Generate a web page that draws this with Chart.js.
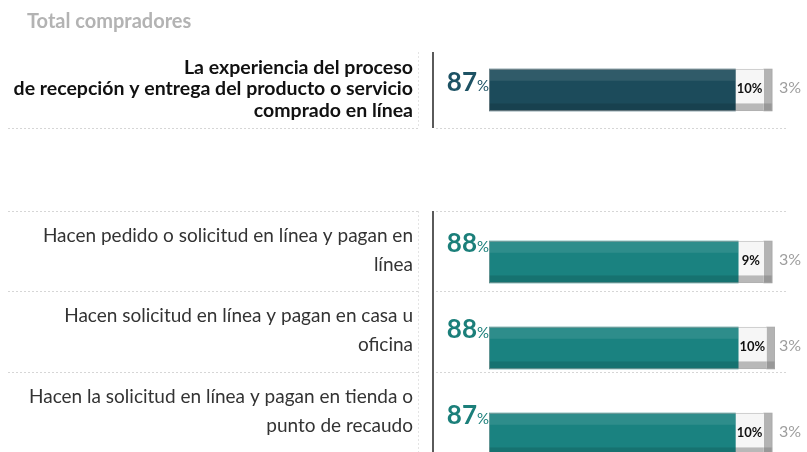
<!DOCTYPE html>
<html>
<head>
<meta charset="utf-8">
<script src="https://cdn.jsdelivr.net/npm/chart.js@4.4.1/dist/chart.umd.min.js"></script>
<style>
  html, body { margin: 0; padding: 0; background: #ffffff; }
  #wrap { position: relative; width: 807px; height: 452px; overflow: hidden; }
  #title { position: absolute; left: 27px; top: 8px; font: bold 20px Lato, sans-serif; color: #b3b3b3; }
  canvas { position: absolute; left: 0; top: 0; }
</style>
</head>
<body>
<div id="wrap">
  <canvas id="chart" width="807" height="490"></canvas>
  <div id="title">Total compradores</div>
</div>
<script>
// Rows (the empty entry leaves the gap between the overall row and the payment groups)
const rowLabels = [
  ['La experiencia del proceso', 'de recepción y entrega del producto o servicio', 'comprado en línea'],
  [],
  ['Hacen pedido o solicitud en línea y pagan en', 'línea'],
  ['Hacen solicitud en línea y pagan en casa u', 'oficina'],
  ['Hacen la solicitud en línea y pagan en tienda o', 'punto de recaudo']
];
const categories = rowLabels.map(l => l.join(' '));

// Shares (%) per row
const satisfied    = [87, null, 88, 88, 87];
const neutral      = [10, null, 9, 10, 10];
const dissatisfied = [3,  null, 3,  3,  3];

// Styling
const mainColors  = ['#1c4b5b', null, '#1a8280', '#1a8280', '#1a8280'];
const labelColors = ['#1d5264', null, '#1b7f7a', '#1b7f7a', '#1b7f7a'];
const cellEdges   = [[52, 128], null, [211, 291], [291, 372], [372, 453]];

const FONT = 'Lato, "Open Sans", sans-serif';

const decorPlugin = {
  id: 'decor',
  beforeDatasetsDraw(chart) {
    const ctx = chart.ctx;
    ctx.save();
    // dotted row dividers
    ctx.strokeStyle = '#d6d6d6';
    ctx.lineWidth = 1;
    ctx.setLineDash([2, 2]);
    const bottoms = cellEdges.filter(Boolean).map(c => c[1]);
    const tops = cellEdges.filter(Boolean).map(c => c[0]);
    const lines = new Set(bottoms.concat([tops[1]]));
    lines.forEach(y => {
      ctx.beginPath(); ctx.moveTo(8, y + 0.5); ctx.lineTo(418, y + 0.5); ctx.stroke();
      ctx.beginPath(); ctx.moveTo(436, y + 0.5); ctx.lineTo(788, y + 0.5); ctx.stroke();
    });
    // faint right border of the label column
    ctx.strokeStyle = '#e4e4e4';
    [[52, 128], [211, 500]].forEach(([a, b]) => {
      ctx.beginPath(); ctx.moveTo(418.5, a); ctx.lineTo(418.5, b); ctx.stroke();
    });
    ctx.setLineDash([]);
    // solid separators between labels and bars
    ctx.strokeStyle = '#5a5a5a';
    ctx.lineWidth = 2;
    [[52, 128], [211, 500]].forEach(([a, b]) => {
      ctx.beginPath(); ctx.moveTo(433, a); ctx.lineTo(433, b); ctx.stroke();
    });
    ctx.restore();
  },
  afterDatasetsDraw(chart) {
    const ctx = chart.ctx;
    const yScale = chart.scales.y;
    ctx.save();
    // gloss bands on each segment
    const bands = [
      { top: 'rgba(255,255,255,0.09)', bottom: 'rgba(0,0,0,0.12)' },
      { top: 'rgba(255,255,255,0.0)', bottom: 'rgba(0,0,0,0.25)' },
      { top: 'rgba(255,255,255,0.0)', bottom: 'rgba(0,0,0,0.15)' }
    ];
    chart.data.datasets.forEach((ds, di) => {
      chart.getDatasetMeta(di).data.forEach((bar, i) => {
        if (ds.data[i] == null) return;
        const x0 = Math.min(bar.base, bar.x), x1 = Math.max(bar.base, bar.x);
        const h = bar.height, top = bar.y - h / 2;
        ctx.fillStyle = bands[di].top;
        ctx.fillRect(x0, top, x1 - x0, h * 0.28);
        ctx.fillStyle = bands[di].bottom;
        ctx.fillRect(x0, top + h * 0.82, x1 - x0, h * 0.18);
      });
    });
    // thin outline around each full bar
    const m0 = chart.getDatasetMeta(0).data, m2 = chart.getDatasetMeta(2).data;
    ctx.strokeStyle = 'rgba(170,170,170,0.5)';
    ctx.lineWidth = 1;
    m0.forEach((bar, i) => {
      if (satisfied[i] == null) return;
      const h = bar.height, top = bar.y - h / 2;
      ctx.strokeRect(bar.base + 0.5, top + 0.5, m2[i].x - bar.base - 1, h - 1);
    });

    rowLabels.forEach((lines, i) => {
      if (!lines.length) return;
      const cy = yScale.getPixelForValue(i);
      const bar = m0[i];
      const top = cy - bar.height / 2;
      const first = i === 0;

      // category label, right aligned, centred in its cell
      const cell = cellEdges[i];
      const mid = (cell[0] + cell[1]) / 2 - 1;
      const lh = first ? 21.5 : 29;
      ctx.font = (first ? 'bold 19.5px ' : '19px ') + FONT;
      ctx.fillStyle = first ? '#111111' : '#333333';
      ctx.textAlign = 'right';
      ctx.textBaseline = 'middle';
      lines.forEach((t, k) => {
        ctx.fillText(t, 413, mid + (k - (lines.length - 1) / 2) * lh);
      });

      // headline share to the left of the bar
      const base = first ? cy + 1 : top + 11;
      ctx.textBaseline = 'alphabetic';
      ctx.fillStyle = labelColors[i];
      ctx.font = '15px ' + FONT;
      const pw = ctx.measureText('%').width;
      ctx.fillText('%', 489, base);
      ctx.font = 'bold 26px ' + FONT;
      ctx.fillText(String(satisfied[i]), 489 - pw, base);

      // neutral share inside the light segment
      const nb = chart.getDatasetMeta(1).data[i];
      ctx.textAlign = 'center';
      ctx.textBaseline = 'middle';
      ctx.font = 'bold 13px ' + FONT;
      ctx.fillStyle = '#111111';
      ctx.fillText(neutral[i] + '%', (nb.base + nb.x) / 2, cy - 1);

      // dissatisfied share outside the bar
      ctx.textAlign = 'left';
      ctx.font = '16px ' + FONT;
      ctx.fillStyle = '#9e9e9e';
      ctx.fillText(dissatisfied[i] + '%', 779, cy - 2);
    });
    ctx.restore();
  }
};

new Chart(document.getElementById('chart'), {
  type: 'bar',
  data: {
    labels: categories,
    datasets: [
      { label: 'Satisfechos', data: satisfied, backgroundColor: ctx => mainColors[ctx.dataIndex] || '#1a8280' },
      { label: 'Neutral', data: neutral, backgroundColor: '#f6f6f6' },
      { label: 'Insatisfechos', data: dissatisfied, backgroundColor: '#b3b3b3' }
    ]
  },
  options: {
    indexAxis: 'y',
    responsive: false,
    animation: false,
    events: [],
    // 0..101 so that the rounded shares of every row fit inside the plot area
    layout: { padding: { left: 489, right: 32, top: 47, bottom: 13 } },
    datasets: { bar: { barThickness: 42, borderWidth: 0 } },
    scales: {
      x: { stacked: true, min: 0, max: 101, display: false },
      y: { stacked: true, display: false }
    },
    plugins: { legend: { display: false }, tooltip: { enabled: false } }
  },
  plugins: [decorPlugin]
});
</script>
</body>
</html>
